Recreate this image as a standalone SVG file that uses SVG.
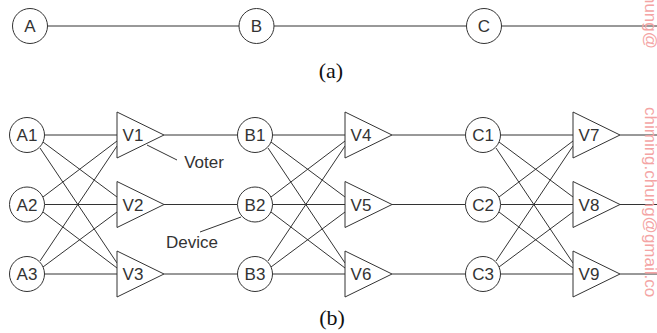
<svg xmlns="http://www.w3.org/2000/svg" xmlns:xlink="http://www.w3.org/1999/xlink" width="657" height="333" viewBox="0 0 657 333">
<style>
  .ln { stroke: #333; stroke-width: 1; fill: none; }
  .nd { stroke: #333; stroke-width: 1; fill: #fff; }
  .lb { font-family: "Liberation Sans", Arial, sans-serif; font-size: 17px; fill: #333; text-anchor: middle; }
  .cap { font-family: "Liberation Serif", "Times New Roman", serif; font-size: 22px; fill: #111; text-anchor: middle; }
  .wm { font-family: "Liberation Sans", Arial, sans-serif; font-size: 17px; fill: #f4a4a4; }
</style>
<defs>
  <polygon id="tri" points="0,-23 0,23 47,0"/>
  <circle id="circ" r="17.5"/>
</defs>
<rect width="657" height="333" fill="#fff"/>

<!-- (a) -->
<g id="connectors-a" class="ln">
  <line x1="47.5" y1="26" x2="239" y2="26"/>
  <line x1="274" y1="26" x2="466.5" y2="26"/>
  <line x1="501.5" y1="26" x2="657" y2="26"/>
</g>
<g id="node-A"><use xlink:href="#circ" class="nd" x="30" y="26"/><text class="lb" x="30" y="32">A</text></g>
<g id="node-B"><use xlink:href="#circ" class="nd" x="256.5" y="26"/><text class="lb" x="256.5" y="32">B</text></g>
<g id="node-C"><use xlink:href="#circ" class="nd" x="484" y="26"/><text class="lb" x="484" y="32">C</text></g>
<text class="cap" x="331" y="78">(a)</text>

<!-- (b) connectors -->
<g id="connectors-b" class="ln">
  <!-- stage A -->
  <line x1="44.5" y1="135" x2="117" y2="135"/>
  <line x1="44.5" y1="204.5" x2="117" y2="204.5"/>
  <line x1="44.5" y1="274" x2="117" y2="274"/>
  <line x1="43" y1="142" x2="117" y2="197"/>
  <line x1="40" y1="148" x2="117" y2="263"/>
  <line x1="43" y1="197" x2="117" y2="141"/>
  <line x1="43" y1="212" x2="117" y2="268"/>
  <line x1="43" y1="267" x2="117" y2="212"/>
  <line x1="40" y1="261" x2="117" y2="146"/>
  <line x1="164" y1="135" x2="237.5" y2="135"/>
  <line x1="164" y1="204.5" x2="237.5" y2="204.5"/>
  <line x1="164" y1="274" x2="237.5" y2="274"/>
  <!-- stage B -->
  <line x1="272.5" y1="135" x2="345" y2="135"/>
  <line x1="272.5" y1="204.5" x2="345" y2="204.5"/>
  <line x1="272.5" y1="274" x2="345" y2="274"/>
  <line x1="271" y1="142" x2="345" y2="197"/>
  <line x1="268" y1="148" x2="345" y2="263"/>
  <line x1="271" y1="197" x2="345" y2="141"/>
  <line x1="271" y1="212" x2="345" y2="268"/>
  <line x1="271" y1="267" x2="345" y2="212"/>
  <line x1="268" y1="261" x2="345" y2="146"/>
  <line x1="392" y1="135" x2="465.5" y2="135"/>
  <line x1="392" y1="204.5" x2="465.5" y2="204.5"/>
  <line x1="392" y1="274" x2="465.5" y2="274"/>
  <!-- stage C -->
  <line x1="500.5" y1="135" x2="573" y2="135"/>
  <line x1="500.5" y1="204.5" x2="573" y2="204.5"/>
  <line x1="500.5" y1="274" x2="573" y2="274"/>
  <line x1="499" y1="142" x2="573" y2="197"/>
  <line x1="496" y1="148" x2="573" y2="263"/>
  <line x1="499" y1="197" x2="573" y2="141"/>
  <line x1="499" y1="212" x2="573" y2="268"/>
  <line x1="499" y1="267" x2="573" y2="212"/>
  <line x1="496" y1="261" x2="573" y2="146"/>
  <line x1="620" y1="135" x2="657" y2="135"/>
  <line x1="620" y1="204.5" x2="657" y2="204.5"/>
  <line x1="620" y1="274" x2="657" y2="274"/>
  <!-- callouts -->
  <line x1="147" y1="145" x2="177" y2="160"/>
  <line x1="200" y1="232" x2="241" y2="217"/>
</g>

<!-- (b) nodes -->
<g id="node-A1"><use xlink:href="#circ" class="nd" x="27" y="135"/><text class="lb" x="27" y="141">A1</text></g>
<g id="node-A2"><use xlink:href="#circ" class="nd" x="27" y="204.5"/><text class="lb" x="27" y="210.5">A2</text></g>
<g id="node-A3"><use xlink:href="#circ" class="nd" x="27" y="274"/><text class="lb" x="27" y="280">A3</text></g>
<g id="node-V1"><use xlink:href="#tri" class="nd" x="117" y="135"/><text class="lb" x="133" y="141">V1</text></g>
<g id="node-V2"><use xlink:href="#tri" class="nd" x="117" y="204.5"/><text class="lb" x="133" y="210.5">V2</text></g>
<g id="node-V3"><use xlink:href="#tri" class="nd" x="117" y="274"/><text class="lb" x="133" y="280">V3</text></g>
<g id="node-B1"><use xlink:href="#circ" class="nd" x="255" y="135"/><text class="lb" x="255" y="141">B1</text></g>
<g id="node-B2"><use xlink:href="#circ" class="nd" x="255" y="204.5"/><text class="lb" x="255" y="210.5">B2</text></g>
<g id="node-B3"><use xlink:href="#circ" class="nd" x="255" y="274"/><text class="lb" x="255" y="280">B3</text></g>
<g id="node-V4"><use xlink:href="#tri" class="nd" x="345" y="135"/><text class="lb" x="361" y="141">V4</text></g>
<g id="node-V5"><use xlink:href="#tri" class="nd" x="345" y="204.5"/><text class="lb" x="361" y="210.5">V5</text></g>
<g id="node-V6"><use xlink:href="#tri" class="nd" x="345" y="274"/><text class="lb" x="361" y="280">V6</text></g>
<g id="node-C1"><use xlink:href="#circ" class="nd" x="483" y="135"/><text class="lb" x="483" y="141">C1</text></g>
<g id="node-C2"><use xlink:href="#circ" class="nd" x="483" y="204.5"/><text class="lb" x="483" y="210.5">C2</text></g>
<g id="node-C3"><use xlink:href="#circ" class="nd" x="483" y="274"/><text class="lb" x="483" y="280">C3</text></g>
<g id="node-V7"><use xlink:href="#tri" class="nd" x="573" y="135"/><text class="lb" x="589" y="141">V7</text></g>
<g id="node-V8"><use xlink:href="#tri" class="nd" x="573" y="204.5"/><text class="lb" x="589" y="210.5">V8</text></g>
<g id="node-V9"><use xlink:href="#tri" class="nd" x="573" y="274"/><text class="lb" x="589" y="280">V9</text></g>

<g id="labels">
  <text class="lb" x="204" y="168">Voter</text>
  <text class="lb" x="192" y="248">Device</text>
  <text class="cap" x="332" y="325">(b)</text>
</g>

<g id="watermark">
  <text class="wm" transform="translate(645,49) rotate(90)" text-anchor="end">chung@</text>
  <text class="wm" transform="translate(645,107) rotate(90)">chiming.chung@gmail.co</text>
</g>
</svg>
